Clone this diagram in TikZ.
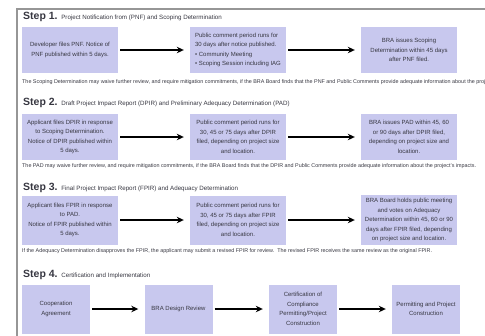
\documentclass[tikz,border=0pt]{standalone}
\usepackage{fontspec}
\setmainfont{Liberation Sans}
\usetikzlibrary{arrows.meta}
\definecolor{boxfill}{RGB}{200,200,238}
\definecolor{boxtext}{RGB}{55,55,65}
\definecolor{framegray}{RGB}{150,150,150}
\tikzset{
	box/.style = {fill = boxfill, text = boxtext, minimum width = 96pt, minimum height = 46pt,
		inner sep = 0pt, align = center, font = \fontsize{6}{9.5}\selectfont},
	smallbox/.style = {box, minimum width = 68pt, minimum height = 49pt},
	flow/.style = {line width = 2pt, -{Stealth[length = 7pt, width = 6.5pt]},
		shorten <= 2pt, shorten >= 6pt},
	steptitle/.style = {anchor = west, inner sep = 0pt, text = boxtext},
	note/.style = {anchor = west, inner sep = 0pt, text = boxtext, font = \fontsize{5.4}{6}\selectfont}
}
\newcommand{\stepname}[2]{{\fontsize{10.5}{12}\selectfont\bfseries Step #1.} {\fontsize{6.2}{8}\selectfont #2}}
\begin{document}
\begin{tikzpicture}[x = 1pt, y = -1pt]
	\useasboundingbox (0, 0) rectangle (485, 335);
	\draw[framegray, line width = 2pt] (17, 345) -- (17, 9) -- (495, 9);
	
	% step 1
	\node (t1) at (23, 17) [steptitle] {\stepname{1}{Project Notification from (PNF) and Scoping Determination}};
	\node (a1) at (70, 50) [box] {Developer files PNF. Notice of\\PNF published within 5 days.};
	\node (b1) at (238, 50) [box, align = left] {Public comment period runs for\\30 days after notice published.\\\textbullet\ Community Meeting\\\textbullet\ Scoping Session including IAG};
	\node (c1) at (409, 50) [box] {BRA issues Scoping\\Determination within 45 days\\after PNF filed.};
	\node (n1) at (22, 82) [note] {The Scoping Determination may waive further review, and require mitigation commitments, if the BRA Board finds that the PNF and Public Comments provide adequate information about the project's impacts.};
	
	% step 2
	\node (t2) at (23, 103) [steptitle] {\stepname{2}{Draft Project Impact Report (DPIR) and Preliminary Adequacy Determination (PAD)}};
	\node (a2) at (70, 137) [box] {Applicant files DPIR in response\\to Scoping Determination.\\Notice of DPIR published within\\5 days.};
	\node (b2) at (238, 137) [box] {Public comment period runs for\\30, 45 or 75 days after DPIR\\filed, depending on project size\\and location.};
	\node (c2) at (409, 137) [box] {BRA issues PAD within 45, 60\\or 90 days after DPIR filed,\\depending on project size and\\location.};
	\node (n2) at (22, 166) [note] {The PAD may waive further review, and require mitigation commitments, if the BRA Board finds that the DPIR and Public Comments provide adequate information about the project's impacts.};
	
	% step 3
	\node (t3) at (23, 188) [steptitle] {\stepname{3}{Final Project Impact Report (FPIR) and Adequacy Determination}};
	\node (a3) at (70, 220) [box, minimum height = 49pt] {Applicant files FPIR in response\\to PAD.\\Notice of FPIR published within\\5 days.};
	\node (b3) at (238, 220) [box, minimum height = 49pt] {Public comment period runs for\\30, 45 or 75 days after FPIR\\filed, depending on project size\\and location.};
	\node (c3) at (409, 220) [box, minimum height = 50pt] {BRA Board holds public meeting\\and votes on Adequacy\\Determination within 45, 60 or 90\\days after FPIR filed, depending\\on project size and location.};
	\node (n3) at (22, 251) [note] {If the Adequacy Determination disapproves the FPIR, the applicant may submit a revised FPIR for review.\ \ The revised FPIR receives the same review as the original FPIR.};
	
	% step 4
	\node (t4) at (23, 275) [steptitle] {\stepname{4}{Certification and Implementation}};
	\node (d1) at (56, 309) [smallbox] {Cooperation\\Agreement};
	\node (d2) at (178.5, 309) [smallbox] {BRA Design Review};
	\node (d3) at (303, 309) [smallbox] {Certification of\\Compliance\\Permitting/Project\\Construction};
	\node (d4) at (426, 309) [smallbox] {Permitting and Project\\Construction};
	
	\foreach \from/\to in {a1/b1, b1/c1, a2/b2, b2/c2, a3/b3, b3/c3, d1/d2, d2/d3, d3/d4} {
		\draw[flow] (\from) -- (\to);
	}
\end{tikzpicture}
\end{document}
